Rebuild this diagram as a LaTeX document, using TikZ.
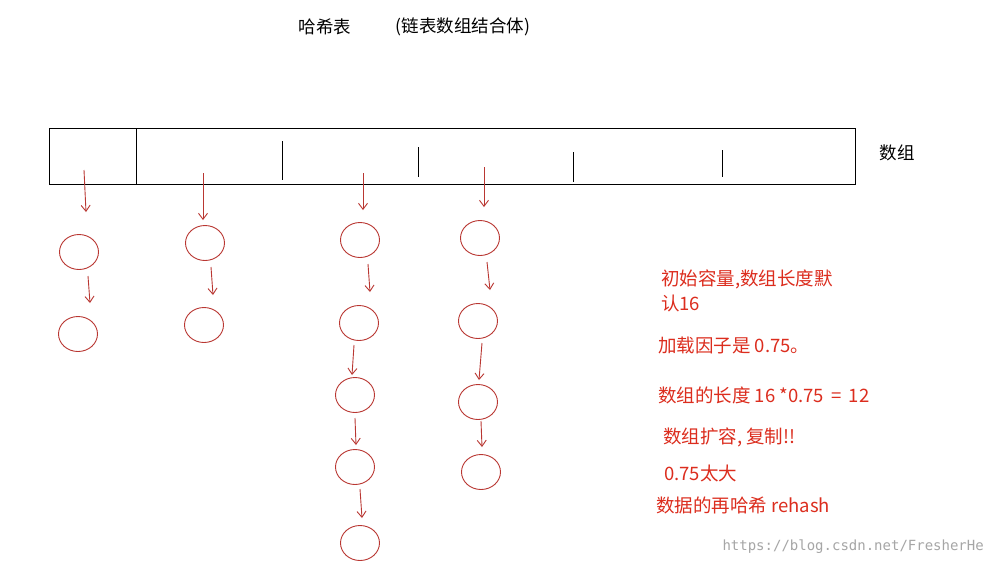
\documentclass[tikz,border=0pt]{standalone}
\usepackage{fontspec}
\setmainfont{Noto Sans CJK SC}
\newfontfamily\wmfont{DejaVu Sans Mono}
\usetikzlibrary{arrows.meta}
\definecolor{lineRed}{RGB}{185,55,50}
\definecolor{textRed}{RGB}{220,45,30}
\tikzset{
  bucket/.style={draw=lineRed,line width=0.9pt,ellipse,minimum width=39pt,minimum height=35pt,inner sep=0pt},
  arr/.style={draw=lineRed,line width=0.9pt,-{Straight Barb[length=6pt,width=9pt]}},
  note/.style={text=textRed,anchor=west,inner sep=0pt,font=\fontsize{18.5}{22}\selectfont}
}
\usetikzlibrary{shapes.geometric}
\begin{document}
\begin{tikzpicture}[x=1pt,y=-1pt]
\path[use as bounding box,fill=white] (0,0) rectangle (989,566);
% title
\node[inner sep=0pt,font=\fontsize{17.5}{20}\selectfont] (title) at (325,27) {哈希表};
\node[inner sep=0pt,font=\fontsize{17.5}{20}\selectfont] (subtitle) at (463,27) {(链表数组结合体)};
% array
\draw[line width=0.8pt] (49,128) rectangle (855,184);
\draw[line width=0.8pt] (136,128) -- (136,184);
\draw[line width=0.8pt] (282,141) -- (282,180);
\draw[line width=0.8pt] (418,147) -- (418,177);
\draw[line width=0.8pt] (573,152) -- (573,182);
\draw[line width=0.8pt] (722,150) -- (722,177);
\node[inner sep=0pt,font=\fontsize{17.5}{20}\selectfont] (arrlabel) at (897,153) {数组};
% buckets
\coordinate (s1) at (84,170);
\coordinate (s2) at (203,173);
\coordinate (s3) at (363,173);
\coordinate (s4) at (484,167);
\node[bucket] (c11) at (79,252) {};
\node[bucket] (c12) at (78,334) {};
\node[bucket] (c21) at (205,243) {};
\node[bucket] (c22) at (204,325) {};
\node[bucket] (c31) at (360,240) {};
\node[bucket] (c32) at (359,323) {};
\node[bucket] (c33) at (355,395) {};
\node[bucket] (c34) at (355,467) {};
\node[bucket] (c35) at (360,543) {};
\node[bucket] (c41) at (480,238) {};
\node[bucket] (c42) at (478,321) {};
\node[bucket] (c43) at (478,402) {};
\node[bucket] (c44) at (481,472) {};
\draw[arr] (s1) -- (86,212);
\draw[arr] (s2) -- (203,220);
\draw[arr] (s3) -- (363,210);
\draw[arr] (s4) -- (484,207);
\draw[arr] (88,276) -- (90,303);
\draw[arr] (211,267) -- (213,295);
\draw[arr] (368,264) -- (370,292);
\draw[arr] (354,345) -- (352,375);
\draw[arr] (355,418) -- (356,445);
\draw[arr] (360,489) -- (362,518);
\draw[arr] (487,262) -- (490,290);
\draw[arr] (482,343) -- (479,380);
\draw[arr] (481,421) -- (482,447);
% notes
\node[note] (n1) at (661,279) {初始容量,数组长度默};
\node[note] (n2) at (661,303) {认16};
\node[note] (n3) at (658,345) {加载因子是 0.75。};
\node[note] (n4) at (658,395) {数组的长度 16 *0.75 \,= \,12};
\node[note] (n5) at (663,437) {数组扩容, 复制!!};
\node[note] (n6) at (664,473) {0.75太大};
\node[note] (n7) at (656,505) {数据的再哈希 rehash};
\node[anchor=east,inner sep=0pt,text=black!35,font=\wmfont\fontsize{14}{16}\selectfont] (wm) at (984,547) {https://blog.csdn.net/FresherHe};
\end{tikzpicture}
\end{document}
